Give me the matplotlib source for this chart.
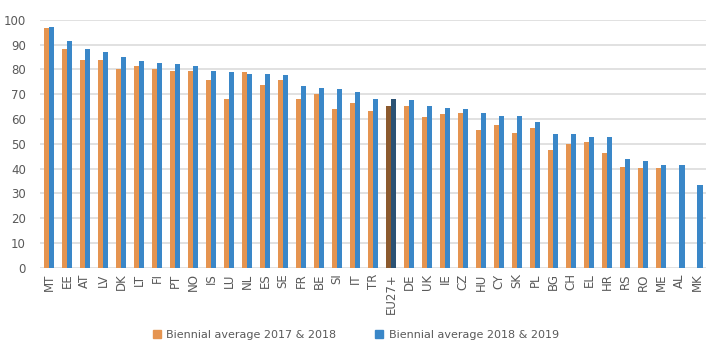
import matplotlib.pyplot as plt
import numpy as np
from matplotlib.patches import Patch

countries = ["MT", "EE", "AT", "LV", "DK", "LT", "FI", "PT", "NO", "IS", "LU", "NL",
             "ES", "SE", "FR", "BE", "SI", "IT", "TR", "EU27+", "DE", "UK", "IE", "CZ",
             "HU", "CY", "SK", "PL", "BG", "CH", "EL", "HR", "RS", "RO", "ME", "AL", "MK"]
avg_2017_2018 = [96.5, 88.3, 83.9, 83.9, 80.3, 81.5, 80.3, 79.5, 79.5, 75.8, 68.0, 79.0,
                 73.8, 75.8, 68.1, 70.2, 64.1, 66.5, 63.3, 65.3, 65.3, 60.9, 62.1, 62.5,
                 55.6, 57.7, 54.4, 56.5, 47.6, 50.0, 50.8, 46.4, 40.7, 40.3, 40.3, np.nan, np.nan]
avg_2018_2019 = [97.2, 91.6, 88.0, 87.1, 84.8, 83.5, 82.7, 82.3, 81.5, 79.5, 79.1, 78.2,
                 78.2, 77.8, 73.4, 72.6, 72.2, 71.0, 68.1, 68.1, 67.7, 65.3, 64.5, 64.1,
                 62.5, 61.3, 61.3, 58.9, 54.0, 54.0, 52.8, 52.8, 44.0, 43.1, 41.5, 41.5, 33.5]
series_names = ["Biennial average 2017 & 2018", "Biennial average 2018 & 2019"]

orange = "#E59450"
blue = "#3A87C8"
dark_orange = "#8C5A2E"
dark_blue = "#2B5274"

fig = plt.figure(figsize=(7.12, 3.52), dpi=100)
ax = fig.add_axes([0.056, 0.239, 0.936, 0.705])

x = np.arange(len(countries))
w = 0.29
c1 = [dark_orange if c == "EU27+" else orange for c in countries]
c2 = [dark_blue if c == "EU27+" else blue for c in countries]
ax.bar(x - w / 2, avg_2017_2018, w, color=c1, zorder=3)
ax.bar(x + w / 2, avg_2018_2019, w, color=c2, zorder=3)

ax.set_xlim(-0.5, len(countries) - 0.5)
ax.set_ylim(0, 100)
ax.set_yticks(range(0, 101, 10))
ax.yaxis.grid(True, color="#DCDCDC", linewidth=1.2, zorder=0)
ax.set_xticks(x)
ax.set_xticklabels(countries, rotation=90)
ax.tick_params(length=0, labelsize=8.5, labelcolor="#595959")
ax.tick_params(axis="x", pad=4)
ax.tick_params(axis="y", pad=10)
for s in ax.spines.values():
    s.set_visible(False)

handles = [Patch(color=orange), Patch(color=blue)]
fig.legend(handles, series_names, loc="center", bbox_to_anchor=(0.5, 0.048), ncol=2,
           frameon=False, fontsize=8, handlelength=0.7, handleheight=0.7,
           handletextpad=0.5, columnspacing=3.5, labelcolor="#595959")

fig.savefig("out.png", dpi=100)
